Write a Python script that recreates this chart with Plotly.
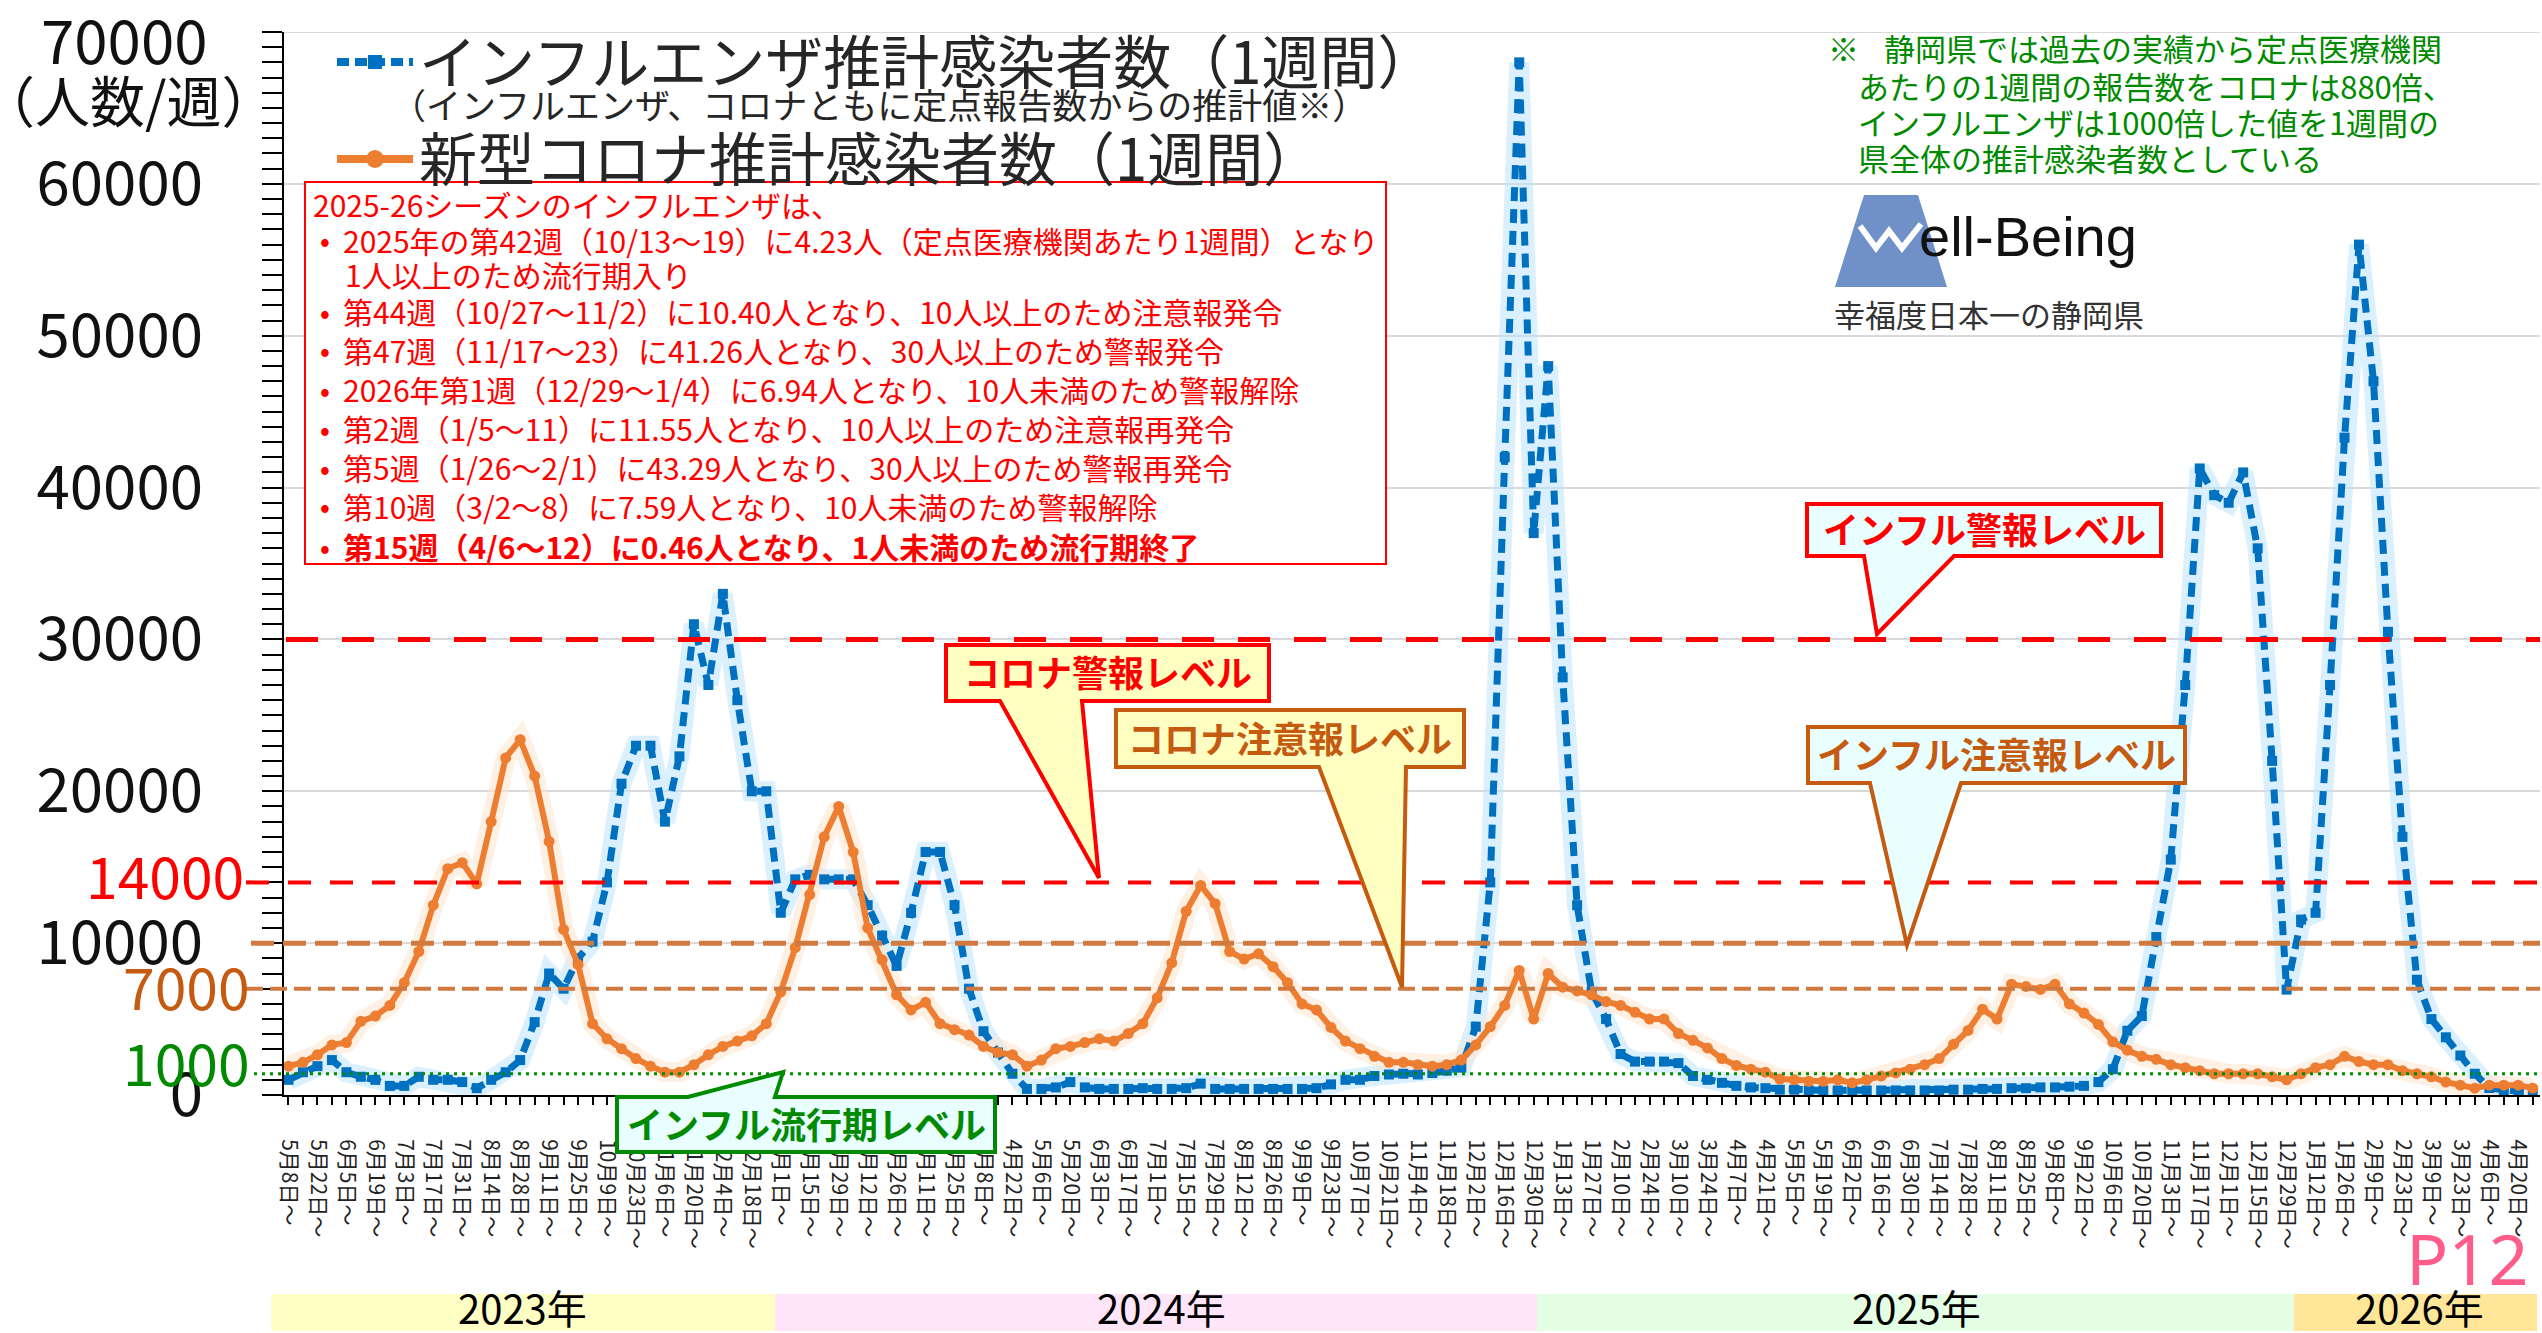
import plotly.graph_objects as go
import pandas as pd

# ---------------- data ----------------
weeks = pd.date_range("2023-05-08", periods=156, freq="7D")

flu = [1000, 1500, 1900, 2300, 1500, 1200, 1000, 600, 600, 1200,
       1000, 1000, 850, 450, 1000, 1500, 2300, 4800, 8000, 7000,
       9000, 10100, 14000, 20500, 23000, 23000, 18000, 22300, 31000, 27000,
       33000, 26000, 20000, 20000, 12000, 14200, 14500, 14200, 14200, 14200,
       12500, 10500, 8500, 12000, 16000, 16000, 12500, 7000, 4200, 2800,
       1400, 400, 400, 500, 850, 500, 400, 400, 400, 450,
       400, 400, 450, 750, 400, 400, 400, 400, 400, 400,
       400, 450, 700, 1000, 1000, 1250, 1350, 1400, 1350, 1450,
       1600, 1800, 4500, 14000, 42000, 68000, 37000, 48000, 27500, 12500,
       6800, 5000, 2700, 2200, 2200, 2200, 2100, 1250, 1000, 800,
       600, 500, 450, 350, 350, 300, 300, 300, 300, 300,
       300, 300, 300, 300, 300, 350, 350, 400, 400, 450,
       450, 500, 500, 550, 600, 850, 1700, 4230, 5200, 10400,
       15500, 27000, 41260, 39500, 39000, 41000, 36000, 22000, 6940, 11550,
       12000, 27000, 43290, 56000, 47000, 30500, 17000, 7590, 5000, 3800,
       2600, 1400, 460, 300, 250, 200]

covid = [1900, 2150, 2650, 3300, 3450, 4850, 5200, 5900, 7400, 9450,
         12500, 14900, 15300, 13900, 18000, 22200, 23400, 21000, 16700, 10900,
         8600, 4700, 3700, 3050, 2400, 1900, 1500, 1500, 2000, 2650,
         3200, 3550, 3900, 4700, 6800, 9700, 13200, 17000, 19000, 16000,
         11000, 8900, 6600, 5600, 6100, 4700, 4300, 3950, 3200, 2800,
         2650, 1900, 2300, 3050, 3200, 3450, 3700, 3550, 4050, 4700,
         6400, 8700, 12100, 13800, 12600, 9450, 8950, 9300, 8450, 7400,
         6000, 5600, 4450, 3550, 3050, 2550, 2150, 2150, 2000, 1900,
         2000, 2300, 3300, 4500, 5900, 8200, 5000, 8000, 7100, 6850,
         6600, 6150, 5900, 5450, 5000, 5000, 4050, 3600, 3100, 2400,
         1950, 1700, 1500, 1050, 1000, 900, 900, 1000, 800, 1000,
         1250, 1450, 1700, 2000, 2400, 3350, 4250, 5650, 5000, 7300,
         7150, 6950, 7300, 6000, 5400, 4650, 3500, 2950, 2550, 2350,
         2000, 1800, 1600, 1400, 1400, 1400, 1400, 1200, 1000, 1400,
         1800, 2000, 2550, 2200, 2000, 2000, 1600, 1400, 1200, 850,
         650, 450, 650, 650, 650, 450]

x_idx = list(range(len(weeks)))
label_idx = list(range(0, 155, 2))
x_labels = [f"{weeks[i].month}月{weeks[i].day}日～" for i in label_idx]

y_ticks = [0, 10000, 20000, 30000, 40000, 50000, 60000]
y_top = 70000

flu_alarm = 30000
covid_alarm = 14000
attention = 10000
covid_attention = 7000
epidemic_drawn = 1400   # drawn position of the "1000" epidemic line in the reference

years = ["2023年", "2024年", "2025年", "2026年"]
year_colors = ["#FFFFC5", "#FFE5F9", "#E5FFE5", "#FFE699"]
year_px = [(271, 775), (775, 1537), (1537, 2294), (2294, 2537)]
year_text_x = [522, 1161, 1916, 2419]

notes = [
    "2025-26シーズンのインフルエンザは、",
    "2025年の第42週（10/13～19）に4.23人（定点医療機関あたり1週間）となり",
    "1人以上のため流行期入り",
    "第44週（10/27～11/2）に10.40人となり、10人以上のため注意報発令",
    "第47週（11/17～23）に41.26人となり、30人以上のため警報発令",
    "2026年第1週（12/29～1/4）に6.94人となり、10人未満のため警報解除",
    "第2週（1/5～11）に11.55人となり、10人以上のため注意報再発令",
    "第5週（1/26～2/1）に43.29人となり、30人以上のため警報再発令",
    "第10週（3/2～8）に7.59人となり、10人未満のため警報解除",
    "第15週（4/6～12）に0.46人となり、1人未満のため流行期終了",
]

green_note = [
    "静岡県では過去の実績から定点医療機関",
    "あたりの1週間の報告数をコロナは880倍、",
    "インフルエンザは1000倍した値を1週間の",
    "県全体の推計感染者数としている",
]

# ---------------- layout helpers ----------------
W, H = 2542, 1333
L, R, T, B = 284, 2540, 32, 1095
FONT = "Noto Sans CJK JP"

def px(x):
    return (x - L) / (R - L)

def py(y):
    return (B - y) / (B - T)

BLUE = "#0070C0"
ORANGE = "#ED7D31"
RED = "#FF0000"
BROWN = "#C55A11"
BROWN_LINE = "#D07A40"
GREEN = "#008A00"
CYAN_FILL = "#E8FEFF"
YEL_FILL = "#FFFFC2"

fig = go.Figure()

# glow
fig.add_trace(go.Scatter(x=x_idx, y=flu, mode="lines", line=dict(color="rgba(190,228,255,0.55)", width=20),
                         hoverinfo="skip", showlegend=False))
fig.add_trace(go.Scatter(x=x_idx, y=covid, mode="lines", line=dict(color="rgba(255,228,205,0.55)", width=20),
                         hoverinfo="skip", showlegend=False))
# series
fig.add_trace(go.Scatter(x=x_idx, y=flu, mode="lines+markers", name="インフルエンザ推計感染者数（1週間）",
                         line=dict(color=BLUE, width=7, dash="14px,8px"),
                         marker=dict(symbol="square", size=10, color=BLUE), showlegend=False))
fig.add_trace(go.Scatter(x=x_idx, y=covid, mode="lines+markers", name="新型コロナ推計感染者数（1週間）",
                         line=dict(color=ORANGE, width=6),
                         marker=dict(symbol="circle", size=11, color=ORANGE), showlegend=False))

shapes = []
ann = []

# gridline and tick at the top value
shapes.append(dict(type="line", xref="paper", yref="y", x0=0, x1=1, y0=y_top, y1=y_top,
                   line=dict(color="#D9D9D9", width=2), layer="below"))
shapes.append(dict(type="line", xref="paper", yref="y", x0=px(L - 20), x1=0, y0=y_top, y1=y_top,
                   line=dict(color="black", width=2), layer="above"))

def hline(val, x0px, color, width, dash):
    shapes.append(dict(type="line", xref="paper", yref="y", x0=px(x0px), x1=1.0, y0=val, y1=val,
                       line=dict(color=color, width=width, dash=dash), layer="above"))

hline(flu_alarm, 286, RED, 5, "32px,24px")
hline(covid_alarm, 246, RED, 4, "23px,19px")
hline(attention, 251, BROWN_LINE, 5, "23px,9px")
hline(covid_attention, 246, BROWN_LINE, 4, "17px,7px")
hline(epidemic_drawn, 254, GREEN, 3, "3px,5px")

def txt(x, y, s, size, color, xanchor="left", yanchor="middle", family=FONT):
    ann.append(dict(x=px(x), y=py(y), xref="paper", yref="paper", text=s, showarrow=False,
                    xanchor=xanchor, yanchor=yanchor, font=dict(size=size, color=color, family=family)))

# top tick label and coloured level labels at the axis
txt(210, 38, str(y_top), 60, "#111111", xanchor="right")
txt(246, 874, "14000", 57, RED, xanchor="right")
txt(252, 985, "7000", 57, BROWN, xanchor="right")
txt(252, 1061, "1000", 57, GREEN, xanchor="right")
txt(-22, 98, "（人数/週）", 55, "#111111")

# legend
shapes.append(dict(type="line", xref="paper", yref="paper", x0=px(337), x1=px(413), y0=py(62), y1=py(62),
                   line=dict(color=BLUE, width=8, dash="12px,6px"), layer="above"))
shapes.append(dict(type="rect", xref="paper", yref="paper", x0=px(368), x1=px(382), y0=py(55), y1=py(69),
                   fillcolor=BLUE, line=dict(width=0), layer="above"))
shapes.append(dict(type="line", xref="paper", yref="paper", x0=px(337), x1=px(413), y0=py(159), y1=py(159),
                   line=dict(color=ORANGE, width=8), layer="above"))
shapes.append(dict(type="circle", xref="paper", yref="paper", x0=px(366), x1=px(384), y0=py(150), y1=py(168),
                   fillcolor=ORANGE, line=dict(width=0), layer="above"))
txt(417, 59, "インフルエンザ推計感染者数（1週間）", 58, "#262626")
txt(389, 103, "（インフルエンザ、コロナともに定点報告数からの推計値※）", 35, "#262626")
txt(417, 156, "新型コロナ推計感染者数（1週間）", 58, "#262626")

# red notes box
shapes.append(dict(type="rect", xref="paper", yref="paper", x0=px(305), x1=px(1386), y0=py(182), y1=py(564),
                   fillcolor="white", line=dict(color=RED, width=2), layer="above"))
note_y = [204, 240, 274, 311, 350, 389, 428, 467, 506, 546]
for k, (s, yy) in enumerate(zip(notes, note_y)):
    content = f"<b>{s}</b>" if k == len(notes) - 1 else s
    if k == 0:
        txt(311, yy, content, 30, RED)
    elif k == 2:
        txt(343, yy, content, 30, RED)
    else:
        txt(318, yy, "<b>•</b>", 26, RED)
        txt(341, yy, content, 30, RED)

# green note (top right)
txt(1826, 47, "※", 31, GREEN)
txt(1882, 47, green_note[0], 31, GREEN)
for s, yy in zip(green_note[1:], [86, 122, 158]):
    txt(1856, yy, s, 31, GREEN)

# Well-Being logo
def pth(points, close=True):
    p = " L ".join(f"{px(a):.5f},{py(b):.5f}" for a, b in points)
    return "M " + p + (" Z" if close else "")

shapes.append(dict(type="path", xref="paper", yref="paper",
                   path=pth([(1864, 195), (1918, 195), (1947, 287), (1835, 287)]),
                   fillcolor="#7090C8", line=dict(width=0), layer="above"))
shapes.append(dict(type="path", xref="paper", yref="paper",
                   path=pth([(1860, 226), (1876, 248), (1889, 231), (1902, 248), (1921, 224)], close=False),
                   line=dict(color="white", width=6), layer="above"))
txt(1917, 236, "ell-Being", 56, "#111111", family="Liberation Sans")
txt(1832, 314, "幸福度日本一の静岡県", 31, "#333333")

# callouts
def callout(x0, y0, x1, y1, bl, br, tip, fill, color, text, size, side="bottom"):
    if side == "bottom":
        pts = [(x0, y0), (x1, y0), (x1, y1), (br, y1), tip, (bl, y1), (x0, y1)]
    else:
        pts = [(x0, y1), (x1, y1), (x1, y0), (br, y0), tip, (bl, y0), (x0, y0)]
    shapes.append(dict(type="path", xref="paper", yref="paper", path=pth(pts),
                       fillcolor=fill, line=dict(color=color, width=4), layer="above"))
    txt((x0 + x1) / 2, (y0 + y1) / 2 - 2, f"<b>{text}</b>", size, color, xanchor="center")

callout(1807, 504, 2161, 556, 1864, 1954, (1877, 634), CYAN_FILL, RED, "インフル警報レベル", 36)
callout(946, 645, 1269, 701, 1000, 1082, (1099, 878), YEL_FILL, RED, "コロナ警報レベル", 36)
callout(1116, 710, 1464, 767, 1319, 1406, (1402, 987), YEL_FILL, BROWN, "コロナ注意報レベル", 36)
callout(1808, 727, 2185, 783, 1870, 1961, (1907, 945), CYAN_FILL, BROWN, "インフル注意報レベル", 36)
callout(617, 1097, 995, 1152, 688, 775, (783, 1072), CYAN_FILL, GREEN, "インフル流行期レベル", 36, side="top")

# year bands
for (a, b), c, s, tx in zip(year_px, year_colors, years, year_text_x):
    shapes.append(dict(type="rect", xref="paper", yref="paper", x0=px(a), x1=px(b), y0=py(1331), y1=py(1294),
                       fillcolor=c, line=dict(width=0), layer="above"))
    txt(tx, 1307, s, 40, "#000000", xanchor="center")

txt(2467, 1258, "P12", 70, "#FF5C8A", xanchor="center", family="Noto Sans")

fig.update_layout(
    width=W, height=H,
    margin=dict(l=L, r=W - R, t=T, b=H - B),
    paper_bgcolor="white", plot_bgcolor="white",
    font=dict(family=FONT),
    showlegend=False,
    shapes=shapes, annotations=ann,
    xaxis=dict(range=[-0.31, 155.5], tickmode="array", tickvals=label_idx, ticktext=x_labels,
               tickangle=90, tickfont=dict(size=21, color="#222222", family=FONT),
               ticks="outside", ticklen=8, tickwidth=1.5, tickcolor="black",
               minor=dict(tickmode="linear", tick0=0, dtick=1, ticks="outside", ticklen=8,
                          tickwidth=1.5, tickcolor="black", showgrid=False),
               showline=True, linecolor="black", linewidth=2, showgrid=False, zeroline=False,
               ticklabelstandoff=30),
    yaxis=dict(range=[0, y_top], tickmode="array", tickvals=y_ticks, ticktext=[str(v) for v in y_ticks],
               tickfont=dict(size=60, color="#111111", family=FONT),
               ticks="outside", ticklen=20, tickwidth=2, tickcolor="black",
               minor=dict(tickmode="linear", tick0=0, dtick=1000, ticks="outside", ticklen=20,
                          tickwidth=2, tickcolor="black", showgrid=False),
               showline=True, linecolor="black", linewidth=2,
               showgrid=True, gridcolor="#D9D9D9", gridwidth=2, zeroline=False,
               ticklabelstandoff=47),
)

fig.write_html("out.html", config={"displayModeBar": False},
               post_script="document.body.style.margin='0px';document.body.style.overflow='hidden';")
